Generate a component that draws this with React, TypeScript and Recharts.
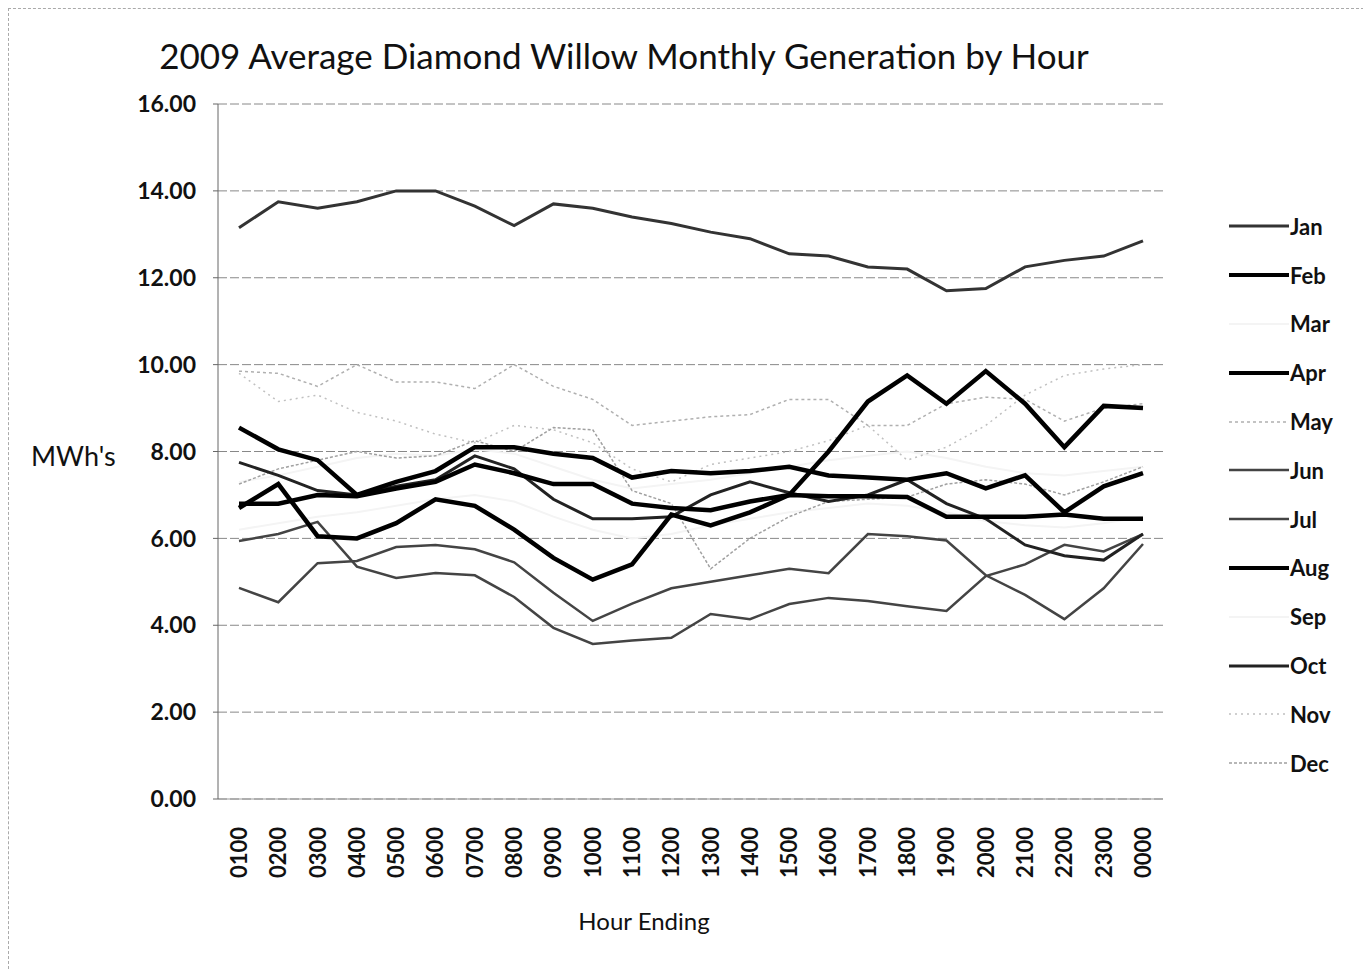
import React from "react";
import { CartesianGrid, Line, LineChart, XAxis, YAxis } from "recharts";

const hours = ["0100", "0200", "0300", "0400", "0500", "0600", "0700", "0800", "0900", "1000", "1100", "1200",
  "1300", "1400", "1500", "1600", "1700", "1800", "1900", "2000", "2100", "2200", "2300", "0000"];
const months = ["Jan", "Feb", "Mar", "Apr", "May", "Jun", "Jul", "Aug", "Sep", "Oct", "Nov", "Dec"];
const yTicks = [0, 2, 4, 6, 8, 10, 12, 14, 16];

const jan = [13.15, 13.75, 13.6, 13.75, 14.0, 14.0, 13.65, 13.2, 13.7, 13.6, 13.4, 13.25, 13.05, 12.9, 12.55, 12.5, 12.25, 12.2, 11.7, 11.75, 12.25, 12.4, 12.5, 12.85];
const feb = [8.55, 8.05, 7.8, 7.0, 7.3, 7.55, 8.1, 8.1, 7.95, 7.85, 7.4, 7.55, 7.5, 7.55, 7.65, 7.45, 7.4, 7.35, 7.5, 7.15, 7.45, 6.6, 7.2, 7.5];
const mar = [7.3, 7.45, 7.65, 7.85, 7.95, 7.9, 8.05, 7.95, 7.65, 7.35, 7.15, 7.25, 7.35, 7.5, 7.65, 7.8, 7.9, 8.0, 7.85, 7.65, 7.5, 7.45, 7.55, 7.65];
const apr = [6.7, 7.25, 6.05, 6.0, 6.35, 6.9, 6.75, 6.2, 5.55, 5.05, 5.4, 6.55, 6.3, 6.6, 7.0, 8.0, 9.15, 9.75, 9.1, 9.85, 9.1, 8.1, 9.05, 9.0];
const may = [9.85, 9.8, 9.5, 10.0, 9.6, 9.6, 9.45, 10.0, 9.5, 9.2, 8.6, 8.7, 8.8, 8.85, 9.2, 9.2, 8.6, 8.6, 9.1, 9.25, 9.2, 8.7, 9.0, 9.1];
const jun = [5.94, 6.1, 6.38, 5.35, 5.09, 5.2, 5.15, 4.65, 3.94, 3.57, 3.65, 3.71, 4.26, 4.14, 4.49, 4.63, 4.56, 4.44, 4.33, 5.13, 5.4, 5.85, 5.7, 6.1];
const jul = [4.86, 4.53, 5.43, 5.48, 5.8, 5.85, 5.75, 5.45, 4.75, 4.1, 4.5, 4.85, 5.0, 5.15, 5.3, 5.2, 6.1, 6.05, 5.95, 5.15, 4.7, 4.14, 4.85, 5.87];
const aug = [6.8, 6.8, 7.0, 6.97, 7.15, 7.3, 7.7, 7.5, 7.25, 7.25, 6.8, 6.7, 6.65, 6.85, 7.0, 6.97, 6.97, 6.95, 6.5, 6.5, 6.5, 6.55, 6.45, 6.45];
const sep = [6.2, 6.35, 6.5, 6.6, 6.75, 6.9, 7.0, 6.85, 6.5, 6.2, 6.0, 6.1, 6.3, 6.45, 6.6, 6.7, 6.8, 6.75, 6.6, 6.4, 6.3, 6.25, 6.35, 6.5];
const oct = [7.75, 7.45, 7.1, 7.0, 7.2, 7.35, 7.9, 7.6, 6.9, 6.45, 6.45, 6.5, 7.0, 7.3, 7.05, 6.85, 7.0, 7.35, 6.8, 6.45, 5.85, 5.6, 5.5, 6.1];
const nov = [9.8, 9.15, 9.3, 8.9, 8.7, 8.4, 8.2, 8.6, 8.5, 8.2, 7.6, 7.3, 7.7, 7.85, 8.0, 8.25, 8.6, 7.8, 8.1, 8.6, 9.3, 9.75, 9.9, 10.0];
const dec = [7.25, 7.6, 7.8, 8.0, 7.85, 7.9, 8.25, 8.0, 8.55, 8.5, 7.1, 6.8, 5.3, 6.0, 6.5, 6.85, 6.9, 6.95, 7.25, 7.35, 7.25, 7.0, 7.3, 7.65];

const series = [jan, feb, mar, apr, may, jun, jul, aug, sep, oct, nov, dec];

// scanned look: faint, medium and heavy strokes
const styles: Record<string, { color: string; width: number; dash?: string }> = {
  Jan: { color: "#333", width: 3 },
  Feb: { color: "#000", width: 4.5 },
  Mar: { color: "#f4f4f4", width: 2 },
  Apr: { color: "#000", width: 4.5 },
  May: { color: "#b0b0b0", width: 1.5, dash: "3 3" },
  Jun: { color: "#444", width: 2.5 },
  Jul: { color: "#444", width: 2.5 },
  Aug: { color: "#000", width: 4.5 },
  Sep: { color: "#f4f4f4", width: 2 },
  Oct: { color: "#222", width: 3 },
  Nov: { color: "#c0c0c0", width: 1.5, dash: "2 4" },
  Dec: { color: "#a0a0a0", width: 1.5, dash: "3 2" },
};
const drawOrder = ["Mar", "Sep", "Nov", "May", "Dec", "Jun", "Jul", "Jan", "Oct", "Aug", "Feb", "Apr"];

const data = hours.map((h, i) => {
  const row: Record<string, string | number> = { hour: h };
  months.forEach((m, k) => { row[m] = series[k][i]; });
  return row;
});

const font = "Lato, 'Open Sans', sans-serif";

const HourTick = (props: any) => {
  const { x, y, payload } = props;
  return (
    <g transform={`translate(${x},${y + 20})`}>
      <text transform="rotate(-90)" textAnchor="end" dy="0.36em" fontSize={22} fontWeight={700} fill="#111" fontFamily={font}>
        {payload.value}
      </text>
    </g>
  );
};

export default function App() {
  return (
    <div style={{ position: "relative", width: 1355, height: 960, borderTop: "1px dashed #aaa", borderLeft: "1px dashed #aaa", fontFamily: font }}>
      <div style={{ position: "absolute", left: 0, width: 1230, top: 25, textAlign: "center", fontSize: 35, color: "#111" }}>
        2009 Average Diamond Willow Monthly Generation by Hour
      </div>
      <div style={{ position: "absolute", left: 22, top: 430, fontSize: 27, color: "#111" }}>MWh's</div>
      <div style={{ position: "absolute", left: 0, width: 1270, top: 897, textAlign: "center", fontSize: 24, color: "#111" }}>
        Hour Ending
      </div>
      <LineChart width={1355} height={960} data={data} margin={{ top: 95, right: 201, left: 0, bottom: 70 }}>
        <CartesianGrid vertical={false} stroke="#888" strokeDasharray="9 3" />
        <XAxis dataKey="hour" height={100} interval={0} padding={{ left: 21, right: 20 }} tickLine={false}
          axisLine={{ stroke: "#999" }} tick={<HourTick />} />
        <YAxis type="number" domain={[0, 16]} ticks={yTicks} width={209} axisLine={{ stroke: "#666" }} tickSize={5} tickLine={{ stroke: "#666" }}
          tickMargin={17} tickFormatter={(v: number) => v.toFixed(2)}
          tick={{ fill: "#111", fontSize: 23, fontWeight: 700, fontFamily: font }} />
        {drawOrder.map((m) => (
          <Line key={m} type="linear" dataKey={m} stroke={styles[m].color} strokeWidth={styles[m].width}
            strokeDasharray={styles[m].dash} dot={false} isAnimationActive={false} />
        ))}
      </LineChart>
      <div style={{ position: "absolute", left: 1220, top: 193 }}>
        {months.map((m) => (
          <div key={m} style={{ display: "flex", alignItems: "center", height: 48.8 }}>
            <svg width={60} height={10}>
              <line x1={0} y1={5} x2={60} y2={5} stroke={styles[m].color} strokeWidth={Math.min(styles[m].width, 4)} strokeDasharray={styles[m].dash} />
            </svg>
            <span style={{ fontSize: 22, fontWeight: 700, color: "#111", marginLeft: 1 }}>{m}</span>
          </div>
        ))}
      </div>
    </div>
  );
}
